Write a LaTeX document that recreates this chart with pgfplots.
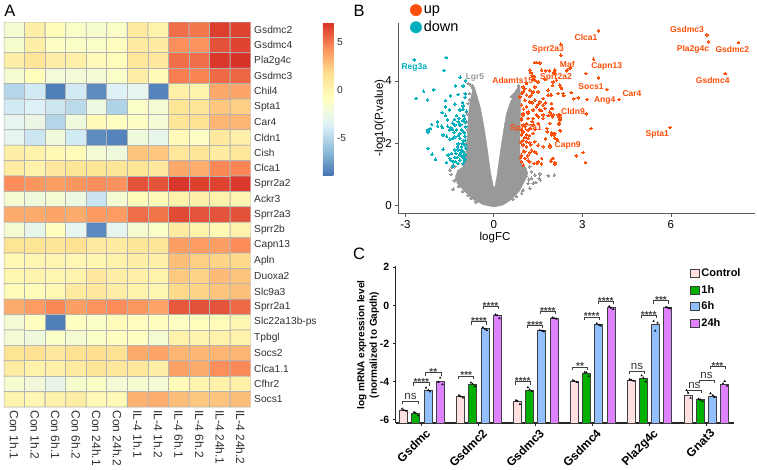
\documentclass[border=0pt]{standalone}
\usepackage{fontspec}
\setmainfont{Liberation Sans}
\usepackage{pgfplots}
\pgfplotsset{compat=1.18}

\definecolor{hmgrid}{HTML}{B4B4B4}
\definecolor{hmtext}{HTML}{303030}
\definecolor{upc}{HTML}{FC4E07}
\definecolor{downc}{HTML}{00AFBB}
\definecolor{vgray}{HTML}{999999}
\definecolor{ctrlc}{HTML}{FFE0E0}
\definecolor{onec}{HTML}{00B000}
\definecolor{sixc}{HTML}{92C0FF}
\definecolor{daylc}{HTML}{DE82FF}
\definecolor{edgec}{HTML}{404040}

\pgfplotsset{colormap={rdylbu}{rgb255=(69,117,180) rgb255=(145,191,219) rgb255=(224,243,248) rgb255=(255,255,191) rgb255=(254,224,144) rgb255=(252,141,89) rgb255=(215,48,39)}}

% text at picture pixels, y counted from the top
\newcommand{\lab}[4][]{\node[inner sep=0pt,#1] at ({#2pt},{(469-#3)*1pt}) {#4};}
\newcommand{\vl}[4]{\lab[font=\bfseries\fontsize{8.5}{10}\selectfont,text=#1]{#2}{#3}{#4}}
\newcommand{\brk}[4]{%
  \draw[edgec,line width=0.7pt] ({#1pt},{(469-#3-3)*1pt}) -- ({#1pt},{(469-#3)*1pt}) -- ({#2pt},{(469-#3)*1pt}) -- ({#2pt},{(469-#3-3)*1pt});
  \node[inner sep=0pt,anchor=base,font=\bfseries\fontsize{10}{12}\selectfont,text=edgec] at ({(#1+#2)/2*1pt},{(469-#3-2.8)*1pt}) {#4};}
\newcommand{\brkns}[3]{%
  \draw[edgec,line width=0.7pt] ({#1pt},{(469-#3-3)*1pt}) -- ({#1pt},{(469-#3)*1pt}) -- ({#2pt},{(469-#3)*1pt}) -- ({#2pt},{(469-#3-3)*1pt});
  \node[inner sep=0pt,anchor=base,font=\fontsize{11.5}{13}\selectfont,text=black!80] at ({(#1+#2)/2*1pt},{(469-#3+1.8)*1pt}) {ns};}

\begin{document}
\begin{tikzpicture}
\path[use as bounding box] (0,0) rectangle (757pt,469pt);

% A: heatmap
\begin{axis}[
  at={(4pt,62pt)},anchor=south west,scale only axis,
  width=246.7pt,height=385pt,
  xmin=-0.5,xmax=11.5,ymin=-0.5,ymax=24.5,y dir=reverse,
  axis line style={draw=none},
  major tick length=0pt,
  xtick={0,...,11},ytick={0,...,24},
  xtick pos=bottom,ytick pos=right,yticklabel pos=right,
  xticklabels={Con 1h.1,Con 1h.2,Con 6h.1,Con 6h.2,Con 24h.1,Con 24h.2,IL-4 1h.1,IL-4 1h.2,IL-4 6h.1,IL-4 6h.2,IL-4 24h.1,IL-4 24h.2},
  yticklabels={Gsdmc2,Gsdmc4,Pla2g4c,Gsdmc3,Chil4,Spta1,Car4,Cldn1,Cish,Clca1,Sprr2a2,Ackr3,Sprr2a3,Sprr2b,Capn13,Apln,Duoxa2,Slc9a3,Sprr2a1,Slc22a13b-ps,Tpbgl,Socs2,Clca1.1,Cfhr2,Socs1},
  x tick label style={rotate=-90,anchor=west,font=\fontsize{12}{14}\selectfont,text=hmtext,xshift=0pt},
  y tick label style={anchor=west,font=\fontsize{10.2}{12}\selectfont,text=hmtext},
  colormap name=rdylbu,
  point meta min=-8.85,point meta max=7.13,
  colorbar,
  colorbar style={
    at={(1.293,1)},anchor=north west,scale only axis,
    width=10.5pt,height=153.5pt,
    axis line style={draw=none},major tick length=0pt,
    ytick={-5,0,5},yticklabels={-5,0,5},
    y tick label style={font=\fontsize{10.2}{12}\selectfont,text=hmtext},
  },
]
\addplot[matrix plot,mesh/cols=12,point meta=explicit,draw=hmgrid,faceted color=hmgrid,line width=0.8pt] coordinates {
(0,0)[-1.6] (1,0)[0.5] (2,0)[-0.6] (3,0)[-1.3] (4,0)[-1.5] (5,0)[-1.2] (6,0)[0.9] (7,0)[0.3] (8,0)[5.4] (9,0)[5.1] (10,0)[6.7] (11,0)[6.6]
(0,1)[-1.5] (1,1)[0.5] (2,1)[-1.1] (3,1)[-1.2] (4,1)[-1.3] (5,1)[-0.8] (6,1)[0.9] (7,1)[0.8] (8,1)[4.4] (9,1)[4.3] (10,1)[6.2] (11,1)[6.6]
(0,2)[0.5] (1,2)[1.4] (2,2)[0.7] (3,2)[0.4] (4,2)[-0.4] (5,2)[-0.7] (6,2)[1.2] (7,2)[1.0] (8,2)[5.3] (9,2)[5.4] (10,2)[6.9] (11,2)[7.1]
(0,3)[-1.6] (1,3)[-0.7] (2,3)[-2.0] (3,3)[-2.0] (4,3)[-1.9] (5,3)[-1.3] (6,3)[0.6] (7,3)[-0.4] (8,3)[4.9] (9,3)[4.7] (10,3)[5.5] (11,3)[5.6]
(0,4)[-5.0] (1,4)[-4.0] (2,4)[-8.5] (3,4)[-4.0] (4,4)[-8.0] (5,4)[-3.6] (6,4)[-3.0] (7,4)[-8.3] (8,4)[0.4] (9,4)[0.3] (10,4)[3.6] (11,4)[3.7]
(0,5)[-4.0] (1,5)[-3.6] (2,5)[-4.2] (3,5)[-4.8] (4,5)[-2.4] (5,5)[-5.2] (6,5)[-1.2] (7,5)[-1.8] (8,5)[1.5] (9,5)[1.4] (10,5)[2.6] (11,5)[2.4]
(0,6)[-3.0] (1,6)[-2.6] (2,6)[-5.0] (3,6)[-2.2] (4,6)[-0.4] (5,6)[-0.9] (6,6)[-1.0] (7,6)[-1.9] (8,6)[1.4] (9,6)[1.6] (10,6)[3.2] (11,6)[3.2]
(0,7)[-3.0] (1,7)[-4.2] (2,7)[-2.2] (3,7)[-4.0] (4,7)[-8.0] (5,7)[-8.3] (6,7)[-2.2] (7,7)[-2.8] (8,7)[-0.4] (9,7)[-1.1] (10,7)[1.0] (11,7)[0.4]
(0,8)[0.5] (1,8)[0.3] (2,8)[-0.3] (3,8)[-0.5] (4,8)[-1.9] (5,8)[-2.2] (6,8)[2.7] (7,8)[2.6] (8,8)[1.2] (9,8)[1.4] (10,8)[0.8] (11,8)[1.2]
(0,9)[0.8] (1,9)[0.2] (2,9)[1.0] (3,9)[1.3] (4,9)[1.5] (5,9)[1.3] (6,9)[1.5] (7,9)[1.0] (8,9)[3.6] (9,9)[3.4] (10,9)[4.6] (11,9)[4.7]
(0,10)[4.5] (1,10)[4.2] (2,10)[3.9] (3,10)[4.2] (4,10)[4.4] (5,10)[4.3] (6,10)[6.2] (7,10)[6.1] (8,10)[7.0] (9,10)[6.7] (10,10)[6.6] (11,10)[6.9]
(0,11)[-1.6] (1,11)[-2.2] (2,11)[-1.7] (3,11)[-2.4] (4,11)[-4.3] (5,11)[-1.7] (6,11)[-0.6] (7,11)[-0.4] (8,11)[0.3] (9,11)[0.4] (10,11)[0.3] (11,11)[0.0]
(0,12)[3.5] (1,12)[3.5] (2,12)[3.7] (3,12)[3.5] (4,12)[4.1] (5,12)[4.0] (6,12)[5.4] (7,12)[5.2] (8,12)[6.4] (9,12)[6.1] (10,12)[6.1] (11,12)[6.2]
(0,13)[-1.7] (1,13)[-2.8] (2,13)[-0.8] (3,13)[-3.0] (4,13)[-8.1] (5,13)[-3.0] (6,13)[-1.6] (7,13)[-1.2] (8,13)[0.9] (9,13)[0.3] (10,13)[-0.3] (11,13)[0.2]
(0,14)[1.5] (1,14)[1.5] (2,14)[1.4] (3,14)[1.7] (4,14)[0.9] (5,14)[0.8] (6,14)[1.3] (7,14)[1.3] (8,14)[3.9] (9,14)[4.0] (10,14)[3.9] (11,14)[4.5]
(0,15)[-0.2] (1,15)[-0.1] (2,15)[0.0] (3,15)[-0.2] (4,15)[-0.1] (5,15)[0.2] (6,15)[0.5] (7,15)[0.4] (8,15)[2.9] (9,15)[2.4] (10,15)[2.2] (11,15)[2.0]
(0,16)[-0.1] (1,16)[0.1] (2,16)[-0.1] (3,16)[0.1] (4,16)[1.0] (5,16)[0.5] (6,16)[0.4] (7,16)[0.2] (8,16)[2.5] (9,16)[2.2] (10,16)[3.0] (11,16)[2.7]
(0,17)[-0.6] (1,17)[-0.5] (2,17)[-0.2] (3,17)[0.9] (4,17)[1.0] (5,17)[0.7] (6,17)[0.3] (7,17)[-0.1] (8,17)[2.0] (9,17)[2.2] (10,17)[2.7] (11,17)[2.8]
(0,18)[3.5] (1,18)[4.0] (2,18)[4.6] (3,18)[3.9] (4,18)[4.3] (5,18)[4.5] (6,18)[4.2] (7,18)[3.7] (8,18)[6.0] (9,18)[6.2] (10,18)[6.1] (11,18)[5.5]
(0,19)[-1.8] (1,19)[-0.8] (2,19)[-8.5] (3,19)[-0.9] (4,19)[-1.2] (5,19)[-0.6] (6,19)[-0.8] (7,19)[-0.8] (8,19)[-1.0] (9,19)[-0.7] (10,19)[-0.6] (11,19)[-0.1]
(0,20)[-1.9] (1,20)[-2.2] (2,20)[-1.3] (3,20)[-1.7] (4,20)[-1.2] (5,20)[-0.9] (6,20)[-0.9] (7,20)[-1.7] (8,20)[0.2] (9,20)[0.1] (10,20)[0.2] (11,20)[0.3]
(0,21)[1.5] (1,21)[1.7] (2,21)[1.0] (3,21)[1.7] (4,21)[1.8] (5,21)[1.7] (6,21)[3.5] (7,21)[3.7] (8,21)[3.2] (9,21)[3.1] (10,21)[3.2] (11,21)[3.2]
(0,22)[0.8] (1,22)[0.3] (2,22)[0.4] (3,22)[0.9] (4,22)[1.4] (5,22)[1.1] (6,22)[1.2] (7,22)[0.5] (8,22)[3.8] (9,22)[3.5] (10,22)[4.4] (11,22)[4.6]
(0,23)[-1.6] (1,23)[-2.1] (2,23)[-2.8] (3,23)[-1.5] (4,23)[-1.2] (5,23)[-1.9] (6,23)[-1.6] (7,23)[-1.8] (8,23)[-0.5] (9,23)[0.1] (10,23)[0.2] (11,23)[0.4]
(0,24)[0.1] (1,24)[-0.2] (2,24)[0.3] (3,24)[0.6] (4,24)[-0.4] (5,24)[-0.4] (6,24)[3.3] (7,24)[3.4] (8,24)[2.9] (9,24)[2.6] (10,24)[2.7] (11,24)[2.9]
};
\end{axis}

% B: volcano
\begin{axis}[
  at={(398.3pt,255pt)},anchor=south west,scale only axis,
  width=356.7pt,height=191.3pt,
  xmin=-3.24,xmax=8.85,ymin=-0.266,ymax=5.87,
  axis x line*=bottom,axis y line*=left,
  every non boxed x axis/.append style={x axis line style={-}},
  every non boxed y axis/.append style={y axis line style={-}},
  axis line style={draw=black!65,line width=1pt},
  tick style={draw=black!65,line width=0.8pt},
  tick align=outside,major tick length=3pt,
  xtick={-3,0,3,6},xticklabels={-3,0,3,6},
  ytick={0,2,4},yticklabels={0,2,4},
  tick label style={font=\fontsize{11.5}{13}\selectfont},
  clip=false,
  legend style={at={(0.024,1.112)},anchor=north west,draw=none,fill=none,
    font=\fontsize{14.5}{16}\selectfont,row sep=2.5pt,
    /tikz/every even column/.append style={column sep=8pt}},
  legend cell align=left,
]
\addplot[forget plot,fill=vgray,draw=vgray,line width=0.5pt] coordinates {
(0.01,-0.04)(-0.35,0.03)(-0.70,0.20)(-0.98,0.45)(-1.25,0.72)(-1.30,0.95)(-1.22,1.14)(-1.02,1.25)(-0.97,1.60)(-0.92,1.90)(-0.90,2.30)(-0.87,2.75)(-0.84,3.10)(-0.78,3.45)(-0.72,3.72)(-0.66,3.80)(-0.58,3.55)(-0.46,3.15)(-0.35,2.60)(-0.25,2.00)(-0.11,1.04)(-0.02,0.62)(0.01,0.58)(0.04,0.62)(0.10,0.93)(0.26,2.00)(0.36,2.60)(0.43,2.96)(0.55,3.30)(0.68,3.55)(0.80,3.78)(0.88,3.85)(0.90,3.50)(0.90,3.00)(0.88,2.40)(0.88,1.80)(0.90,1.40)(1.05,1.25)(1.15,1.05)(1.05,0.80)(0.85,0.45)(0.55,0.17)(0.32,0.03)
} -- cycle;
\addplot[forget plot,only marks,color=vgray,mark=*,mark size=1.3pt,mark options={line width=0pt}] coordinates {
(-1.38,0.53)(-1.49,1.14)(-1.07,0.45)(-0.87,0.34)(-1.27,0.88)(-1.15,1.04)(-1.38,1.30)(-1.32,1.25)(-1.43,1.23)(-1.20,0.62)(-1.35,0.80)(-1.45,1.00)(-0.60,0.12)(-0.78,0.24)
(-0.87,3.92)(-0.79,3.87)(-0.70,3.76)(-0.83,3.60)(-0.87,3.28)(-0.76,3.17)(-0.93,2.69)(-0.87,2.43)(-0.94,2.00)(-0.96,1.40)(-1.02,1.30)(-0.74,3.84)(-0.81,3.40)(-0.90,2.95)
(1.56,1.02)(1.53,0.88)(1.58,0.82)(1.84,0.96)(2.05,0.98)(1.33,0.72)(1.16,0.72)(1.22,0.56)(0.99,0.50)(0.94,0.40)(1.28,0.88)(1.39,0.98)(1.22,1.25)(1.05,1.20)(1.28,1.09)(1.10,0.95)(1.18,0.85)(1.42,0.75)(0.77,0.29)(0.65,0.20)(0.77,3.70)(0.65,3.55)(0.71,3.60)(0.60,3.50)(0.82,3.33)(0.84,3.85)(0.92,1.32)(0.88,1.25)
};
\addplot[only marks,color=upc,mark=*,mark size=1.3pt,mark options={line width=0pt},
  legend image code/.code={\fill[fill=upc] (0pt,0pt) circle (5.7pt);}] coordinates {
(3.54,5.61)(7.22,5.48)(7.27,5.26)(8.29,5.24)(7.84,4.24)(5.97,2.51)(4.25,3.41)(3.83,3.73)(3.54,4.10)(3.38,4.70)(3.12,4.24)(3.16,3.41)(2.86,3.46)(2.71,3.43)(2.62,3.63)(2.37,3.53)(2.18,3.60)(1.99,3.85)(2.27,3.79)(2.46,4.33)(2.58,4.40)(2.07,4.35)(2.03,4.26)(3.13,2.95)(3.30,2.48)(2.79,1.60)(3.03,1.71)(3.10,1.39)(1.99,1.52)(1.93,1.43)(2.07,1.34)(2.24,2.41)(2.21,2.64)(2.21,2.83)(2.18,2.91)(1.98,2.85)(1.95,3.28)(1.95,3.12)(1.93,3.55)(2.03,2.32)(2.09,2.16)(2.15,2.11)(1.95,2.27)(1.90,1.89)
(2.27,5.18)(2.27,4.83)(1.37,4.59)(1.45,4.59)(1.56,4.58)(1.22,4.35)(1.25,4.27)(1.30,4.19)(1.36,4.13)(1.62,4.35)(1.76,4.33)(1.88,4.33)(2.05,4.35)(2.07,4.24)(2.49,4.35)(2.60,4.42)(1.31,4.05)(1.39,4.03)(1.50,3.97)(1.73,4.05)(2.01,3.97)(2.12,4.03)(2.24,3.87)(2.29,3.76)(2.35,3.60)(2.63,3.63)(1.39,3.81)(1.11,3.92)(0.99,3.81)(1.22,3.71)(1.33,3.65)(0.99,3.65)(1.11,3.55)(0.88,3.49)(1.50,3.65)(1.28,3.55)(1.84,3.71)(1.95,3.55)(1.84,3.55)(1.67,3.44)(1.56,3.33)(1.39,3.39)(1.22,3.33)(1.05,3.39)(0.94,3.23)(1.11,3.17)(1.45,3.17)(1.67,3.23)(1.95,3.28)(1.98,3.12)(1.73,3.12)(1.56,3.07)(1.33,3.07)(1.16,3.01)(0.99,2.96)(0.94,2.80)(1.16,2.80)(1.45,2.91)(1.67,2.91)(1.95,2.91)(2.24,2.82)
(2.24,2.91)(2.24,2.75)(2.20,2.62)(2.26,2.40)(2.01,2.91)(1.84,2.89)(1.50,2.85)(1.67,2.80)(1.33,2.80)(1.16,2.96)(0.99,2.91)(0.94,2.75)(1.11,2.64)(1.33,2.59)(1.50,2.64)(1.90,2.64)(1.79,2.48)(1.95,2.34)(2.07,2.32)(1.81,2.37)(1.75,2.14)(1.90,1.94)(2.07,2.16)(2.03,2.27)(1.67,1.89)(1.50,1.94)(1.39,2.05)(1.22,2.02)(1.05,2.19)(0.94,2.27)(1.11,2.27)(0.99,2.10)(1.16,2.16)(0.99,1.95)(1.11,1.89)(1.28,1.78)(1.45,1.68)(1.39,1.73)(1.22,1.70)(1.05,1.73)(0.94,1.62)(1.05,1.52)(0.94,1.41)(1.16,1.46)(1.62,1.52)(1.50,1.41)(1.62,1.34)(1.45,1.36)(2.01,1.52)(1.95,1.43)(2.07,1.39)(1.22,1.41)(1.36,1.36)(0.99,2.37)(1.16,2.43)(1.33,2.32)(0.99,2.59)(0.94,2.43)(1.24,2.48)
(1.00,3.10)(1.05,2.55)(1.20,2.25)(1.10,2.05)(1.25,1.95)(1.30,2.70)(1.40,2.45)(1.00,1.75)(1.15,1.60)(0.92,2.05)(0.90,1.55)(1.00,1.30)(1.60,3.05)(1.50,3.25)(1.75,3.30)(1.90,3.00)(1.30,3.30)(0.95,3.60)(1.05,3.75)(1.20,3.50)
};
\addlegendentry{up}
\addplot[only marks,color=downc,mark=*,mark size=1.3pt,mark options={line width=0pt},
  legend image code/.code={\fill[fill=downc] (0pt,0pt) circle (5.7pt);}] coordinates {
(-2.70,4.68)(-1.62,4.75)(-1.69,4.34)(-1.14,4.12)(-1.30,3.84)(-1.04,3.84)(-0.96,4.00)(-2.38,3.67)(-2.04,3.72)(-2.64,3.44)(-2.25,3.39)(-1.64,3.38)(-1.47,3.52)(-1.21,3.57)(-0.97,3.60)(-0.97,3.48)(-1.06,3.31)(-1.04,3.20)(-1.32,3.26)(-1.64,3.17)(-1.51,3.07)(-1.75,2.99)(-1.64,2.90)(-1.15,3.07)(-0.93,3.03)(-1.02,2.89)(-1.27,2.89)(-1.34,2.77)(-1.07,2.73)(-1.57,2.75)(-1.91,2.69)(-2.11,2.61)(-2.15,2.48)(-2.23,2.43)(-2.23,2.37)(-1.91,2.55)(-1.77,2.55)(-1.74,2.51)(-1.57,2.55)(-1.46,2.51)(-1.32,2.59)(-1.21,2.69)(-1.15,2.59)(-1.40,2.45)(-1.27,2.43)(-1.10,2.43)(-1.72,2.27)(-1.60,2.23)(-1.49,2.13)(-1.40,2.16)(-1.32,2.21)(-1.15,2.32)(-1.04,2.37)(-0.98,2.23)(-1.15,2.16)(-1.04,2.08)(-1.21,1.98)(-1.10,1.89)(-0.98,1.95)(-2.23,1.84)(-1.72,1.81)(-1.32,1.79)(-1.21,1.79)(-1.04,1.73)(-0.98,1.63)(-2.09,1.65)(-1.98,1.49)(-1.55,1.63)(-1.44,1.68)(-1.29,1.68)(-1.15,1.63)(-1.04,1.55)(-1.49,1.52)(-1.32,1.55)(-1.15,1.46)(-0.98,1.49)(-1.60,1.38)(-1.38,1.41)(-1.21,1.36)(-1.04,1.36)(-1.38,1.27)(-1.46,1.46)(-1.10,1.79)(-1.24,1.89)(-0.95,2.53)(-0.98,2.69)(-1.51,2.43)(-1.40,2.65)(-1.18,2.80)
(-1.10,1.60)(-1.25,1.55)(-1.00,1.45)(-1.12,1.70)(-1.30,1.42)(-0.95,1.85)(-0.97,2.10)(-1.08,2.00)(-1.20,2.25)(-1.00,2.35)(-1.35,2.35)(-1.12,2.60)(-1.05,3.10)(-1.00,2.80)
};
\addlegendentry{down}
\end{axis}

% C: bars
\begin{axis}[
  at={(395.7pt,46pt)},anchor=south west,scale only axis,
  width=338.3pt,height=157pt,
  xmin=-0.462,xmax=5.483,ymin=-6.17,ymax=2.07,
  y coord trafo/.code={\pgfmathparse{#1+6.17}\pgfmathresult},
  y coord inv trafo/.code={\pgfmathparse{#1-6.17}\pgfmathresult},
  axis x line*=bottom,axis y line*=left,
  every non boxed x axis/.append style={x axis line style={-}},
  every non boxed y axis/.append style={y axis line style={-}},
  axis line style={draw=black!85,line width=1.2pt},
  tick style={draw=black!85,line width=1pt},
  tick align=outside,major tick length=3pt,
  xtick={0,...,5},xticklabels={Gsdmc,Gsdmc2,Gsdmc3,Gsdmc4,Pla2g4c,Gnat3},
  ytick={-6,-4,-2,0,2},yticklabels={-6,-4,-2,0,2},
  x tick label style={rotate=45,anchor=north east,font=\bfseries\fontsize{12}{14}\selectfont,xshift=4pt,yshift=0pt},
  y tick label style={font=\bfseries\fontsize{10.5}{12}\selectfont},
  legend style={at={(0.868,0.995)},anchor=north west,draw=none,fill=none,
    font=\bfseries\fontsize{11}{13}\selectfont,row sep=3pt,inner sep=0pt,
    /tikz/every even column/.append style={column sep=7pt}},
  legend cell align=left,
]
\addplot[ybar,bar width=8pt,bar shift=-18.3pt,fill=ctrlc,draw=edgec,line width=1pt,
  legend image code/.code={\draw[fill=ctrlc,draw=edgec,line width=0.9pt] (0pt,-4pt) rectangle (9pt,4pt);}] coordinates {
(0,-5.49)(1,-4.76)(2,-5.02)(3,-3.99)(4,-3.92)(5,-4.71)};
\addlegendentry{Control}
\addplot[ybar,bar width=8pt,bar shift=-6.1pt,fill=onec,draw=edgec,line width=1pt,
  legend image code/.code={\draw[fill=onec,draw=edgec,line width=0.9pt] (0pt,-4pt) rectangle (9pt,4pt);}] coordinates {
(0,-5.67)(1,-4.13)(2,-4.44)(3,-3.59)(4,-3.85)(5,-4.95)};
\addlegendentry{1h}
\addplot[ybar,bar width=8pt,bar shift=6.1pt,fill=sixc,draw=edgec,line width=1pt,
  legend image code/.code={\draw[fill=sixc,draw=edgec,line width=0.9pt] (0pt,-4pt) rectangle (9pt,4pt);}] coordinates {
(0,-4.44)(1,-1.20)(2,-1.32)(3,-1.00)(4,-1.02)(5,-4.77)};
\addlegendentry{6h}
\addplot[ybar,bar width=8pt,bar shift=18.3pt,fill=daylc,draw=edgec,line width=1pt,
  legend image code/.code={\draw[fill=daylc,draw=edgec,line width=0.9pt] (0pt,-4pt) rectangle (9pt,4pt);}] coordinates {
(0,-4.00)(1,-0.55)(2,-0.66)(3,-0.12)(4,-0.12)(5,-4.16)};
\addlegendentry{24h}
% the single measurements on top of the bars
\addplot[forget plot,only marks,mark=triangle*,mark size=1.1pt,mark options={draw=black,fill=black,line width=0.2pt}] coordinates {
(-0.35,-5.42)(-0.32,-5.49)(-0.28,-5.53)(0.65,-4.72)(0.68,-4.78)(0.72,-4.84)(1.65,-4.98)(1.68,-5.02)(1.72,-5.18)(2.65,-3.92)(2.68,-3.98)(2.72,-4.03)(3.65,-3.88)(3.68,-3.92)(3.72,-3.96)(4.65,-4.45)(4.68,-4.60)(4.72,-4.85)
(-0.14,-5.60)(-0.11,-5.65)(-0.07,-5.78)(0.86,-4.05)(0.89,-4.12)(0.93,-4.25)(1.86,-4.30)(1.89,-4.42)(1.93,-4.50)(2.86,-3.50)(2.89,-3.52)(2.93,-3.72)(3.86,-3.68)(3.89,-3.80)(3.93,-4.00)(4.86,-4.90)(4.89,-4.95)(4.93,-5.02)
(0.07,-4.32)(0.11,-4.45)(0.14,-4.52)(1.07,-1.15)(1.11,-1.24)(1.14,-1.30)(2.07,-1.30)(2.11,-1.33)(2.14,-1.36)(3.07,-0.95)(3.11,-1.02)(3.14,-1.06)(4.07,-0.82)(4.14,-0.91)(4.10,-1.33)(5.07,-4.62)(5.11,-4.72)(5.14,-4.82)
(0.29,-4.02)(0.32,-3.80)(0.36,-4.15)(1.29,-0.48)(1.32,-0.52)(1.36,-0.68)(2.29,-0.64)(2.32,-0.66)(2.36,-0.70)(3.29,-0.05)(3.32,-0.12)(3.36,-0.20)(4.29,-0.08)(4.32,-0.12)(4.36,-0.16)(5.29,-4.10)(5.32,-3.98)(5.36,-4.22)
};
\end{axis}

% panel letters
\lab[font=\fontsize{16.5}{18}\selectfont]{10}{10.5}{A}
\lab[font=\fontsize{16.5}{18}\selectfont]{359}{10.5}{B}
\lab[font=\fontsize{16.5}{18}\selectfont]{359}{254}{C}

% B: axis titles and gene names
\lab[rotate=90,font=\fontsize{11.5}{13}\selectfont]{380}{118}{-log10(P.value)}
\lab[font=\fontsize{11.5}{13}\selectfont]{495}{238}{logFC}
\vl{downc}{414.3}{67.3}{Reg3a}
\vl{vgray}{475}{77.7}{Lgr5}
\vl{upc}{512.7}{80.7}{Adamts15}
\vl{upc}{548}{49}{Sprr2a3}
\vl{upc}{556}{77.7}{Sprr2a2}
\vl{upc}{526}{128}{Sprr2a1}
\vl{upc}{573}{111}{Cldn9}
\vl{upc}{567.7}{145.7}{Capn9}
\vl{upc}{586}{37.7}{Clca1}
\vl{upc}{567.3}{64}{Maf}
\vl{upc}{606.7}{66.3}{Capn13}
\vl{upc}{591}{87}{Socs1}
\vl{upc}{604.7}{100.7}{Ang4}
\vl{upc}{632}{93.3}{Car4}
\vl{upc}{657.3}{134.7}{Spta1}
\vl{upc}{687}{29}{Gsdmc3}
\vl{upc}{693}{49.3}{Pla2g4c}
\vl{upc}{732.3}{49.3}{Gsdmc2}
\vl{upc}{712.7}{80.3}{Gsdmc4}

% C: axis title and significance brackets
\lab[rotate=90,align=center,font=\bfseries\fontsize{10}{12.5}\selectfont]{368}{345}{log mRNA expression level\\(normalized to Gapdh)}
\brkns{402.7}{418.3}{401.3}
\brk{413.7}{429}{382.7}{****}
\brk{425.7}{441}{372.7}{**}
\brk{458.7}{473.7}{376}{***}
\brk{471.3}{486.7}{321.7}{****}
\brk{483}{498}{306.3}{****}
\brk{515.3}{530}{381.7}{****}
\brk{527.3}{542.7}{325.3}{****}
\brk{540.3}{555.3}{311.3}{****}
\brk{572.3}{587.7}{367}{**}
\brk{584}{599.3}{317}{****}
\brk{598}{613.3}{301.3}{****}
\brkns{629.3}{644.7}{371}
\brk{641}{656.3}{315.3}{****}
\brk{653.3}{668.7}{300.7}{***}
\brkns{687}{701.7}{390}
\brkns{699}{714}{380.3}
\brk{710}{725}{366.3}{***}
\end{tikzpicture}
\end{document}
